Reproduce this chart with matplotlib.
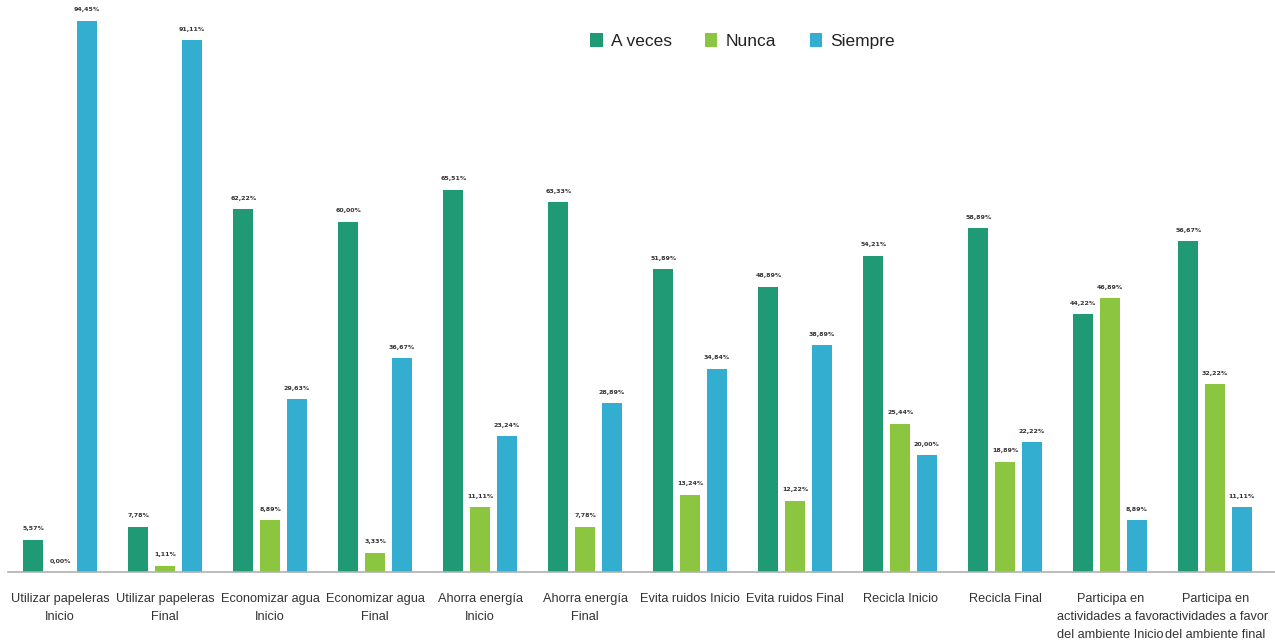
import numpy as np
import matplotlib.pyplot as plt

categorias = [
    "Utilizar papeleras\nInicio",
    "Utilizar papeleras\nFinal",
    "Economizar agua\nInicio",
    "Economizar agua\nFinal",
    "Ahorra energía\nInicio",
    "Ahorra energía\nFinal",
    "Evita ruidos Inicio",
    "Evita ruidos Final",
    "Recicla Inicio",
    "Recicla Final",
    "Participa en\nactividades a favor\ndel ambiente Inicio",
    "Participa en\nactividades a favor\ndel ambiente final",
]
a_veces = [5.57, 7.78, 62.22, 60.00, 65.51, 63.33, 51.89, 48.89, 54.21, 58.89, 44.22, 56.67]
nunca = [0.00, 1.11, 8.89, 3.33, 11.11, 7.78, 13.24, 12.22, 25.44, 18.89, 46.89, 32.22]
siempre = [94.45, 91.11, 29.63, 36.67, 23.24, 28.89, 34.84, 38.89, 20.00, 22.22, 8.89, 11.11]

series = [("A veces", a_veces, "#1f9a74"),
          ("Nunca", nunca, "#8cc540"),
          ("Siempre", siempre, "#33add0")]

fuente = ["Liberation Sans", "DejaVu Sans"]

fig = plt.figure(figsize=(12.75, 6.42), dpi=100)
ax = fig.add_axes([0.006, 0.109, 0.994, 0.891])

x = np.arange(len(categorias))
ancho = 0.19
desp = [-0.255, 0, 0.255]

for (nombre, vals, color), d in zip(series, desp):
    barras = ax.bar(x + d, vals, ancho, color=color, label=nombre)
    etiquetas = [f"{v:.2f}%".replace(".", ",") for v in vals]
    ax.bar_label(barras, labels=etiquetas, padding=6, fontsize=4.5,
                 fontweight="bold", color="#333333")

ax.set_xlim(-0.5, 11.57)
ax.set_ylim(0, 98)
ax.set_xticks(x)
ax.set_xticklabels(categorias, fontsize=9.2, color="#333333", linespacing=1.65,
                   family=fuente)
ax.tick_params(axis="x", length=0, pad=15)
ax.set_yticks([])
for s in ["top", "right", "left"]:
    ax.spines[s].set_visible(False)
ax.spines["bottom"].set_color("#b0b0b0")
ax.spines["bottom"].set_linewidth(1.2)

ax.legend(loc="upper center", bbox_to_anchor=(0.58, 0.97), ncol=3, frameon=False,
          prop={"size": 12.5, "family": fuente}, handlelength=0.7, handleheight=0.9,
          columnspacing=1.9, handletextpad=0.5, labelcolor="#222222")

fig.savefig("out.png", dpi=100)
